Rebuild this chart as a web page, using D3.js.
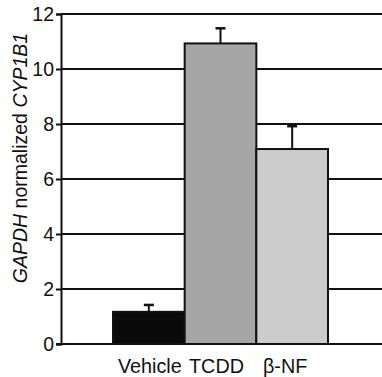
<!DOCTYPE html>
<html>
<head>
<meta charset="utf-8">
<script src="https://cdn.jsdelivr.net/npm/d3@7"></script>
<style>
  body { margin: 0; background: #fff; }
  svg { display: block; font-family: "Liberation Sans", Arial, sans-serif; }
</style>
</head>
<body>
<div id="graph"></div>
<script>
const categories = ["Vehicle", "TCDD", "β-NF"];
const means = [1.17, 10.93, 7.09];
const errors = [0.25, 0.55, 0.83];
const colors = ["#0a0a0a", "#a6a6a6", "#cccccc"];
const yTicks = [0, 2, 4, 6, 8, 10, 12];

const w = 382;
const h = 377;

const xScale = d3.scaleBand()
  .domain(categories)
  .range([113, 328])
  .padding(0);

const yScale = d3.scaleLinear()
  .domain([0, 12])
  .range([344, 14]);

const svg = d3.select("#graph")
  .append("svg")
  .attr("width", w)
  .attr("height", h);

// gridlines
svg.append("g")
  .selectAll("line")
  .data(yTicks)
  .enter()
  .append("line")
  .attr("x1", 61)
  .attr("x2", w)
  .attr("y1", (d) => yScale(d))
  .attr("y2", (d) => yScale(d))
  .attr("stroke", "#111")
  .attr("stroke-width", 2);

// error bars
svg.append("g")
  .selectAll("line")
  .data(categories)
  .enter()
  .append("line")
  .attr("x1", (d) => xScale(d) + xScale.bandwidth() / 2)
  .attr("x2", (d) => xScale(d) + xScale.bandwidth() / 2)
  .attr("y1", (d, i) => yScale(means[i]))
  .attr("y2", (d, i) => yScale(means[i] + errors[i]))
  .attr("stroke", "#111")
  .attr("stroke-width", 2);

svg.append("g")
  .selectAll("line")
  .data(categories)
  .enter()
  .append("line")
  .attr("x1", (d) => xScale(d) + xScale.bandwidth() / 2 - 5)
  .attr("x2", (d) => xScale(d) + xScale.bandwidth() / 2 + 5)
  .attr("y1", (d, i) => yScale(means[i] + errors[i]))
  .attr("y2", (d, i) => yScale(means[i] + errors[i]))
  .attr("stroke", "#111")
  .attr("stroke-width", 2.5);

// bars
svg.append("g")
  .selectAll("rect")
  .data(categories)
  .enter()
  .append("rect")
  .attr("x", (d) => xScale(d))
  .attr("y", (d, i) => yScale(means[i]))
  .attr("width", xScale.bandwidth())
  .attr("height", (d, i) => yScale(0) - yScale(means[i]))
  .attr("fill", (d, i) => colors[i])
  .attr("stroke", "#111")
  .attr("stroke-width", 2);

// y axis
const yAxis = d3.axisLeft(yScale)
  .tickValues(yTicks)
  .tickSize(5)
  .tickPadding(2)
  .tickFormat(d3.format("d"));

const gy = svg.append("g")
  .attr("transform", "translate(61, 0)")
  .call(yAxis);
gy.select(".domain").attr("stroke", "#111").attr("stroke-width", 2);
gy.selectAll(".tick line").attr("stroke", "#111").attr("stroke-width", 2);
gy.selectAll(".tick text")
  .attr("font-size", 19.5)
  .attr("fill", "#111")
  .attr("font-family", "Liberation Sans, Arial, sans-serif");

// bottom axis line
svg.append("line")
  .attr("x1", 56)
  .attr("x2", w)
  .attr("y1", yScale(0))
  .attr("y2", yScale(0))
  .attr("stroke", "#111")
  .attr("stroke-width", 2);

// x labels
const labelOffsets = [1, -4, -7];
svg.append("g")
  .selectAll("text")
  .data(categories)
  .enter()
  .append("text")
  .attr("x", (d, i) => xScale(d) + xScale.bandwidth() / 2 + labelOffsets[i])
  .attr("y", 373)
  .attr("text-anchor", "middle")
  .attr("font-size", 19.8)
  .attr("fill", "#111")
  .text((d) => d);

// y label
const ylab = svg.append("text")
  .attr("transform", "translate(27, 158) rotate(-90)")
  .attr("text-anchor", "middle")
  .attr("font-size", 19.5)
  .attr("fill", "#111");
ylab.append("tspan").attr("font-style", "italic").text("GAPDH");
ylab.append("tspan").text(" normalized ");
ylab.append("tspan").attr("font-style", "italic").text("CYP1B1");
</script>
</body>
</html>
